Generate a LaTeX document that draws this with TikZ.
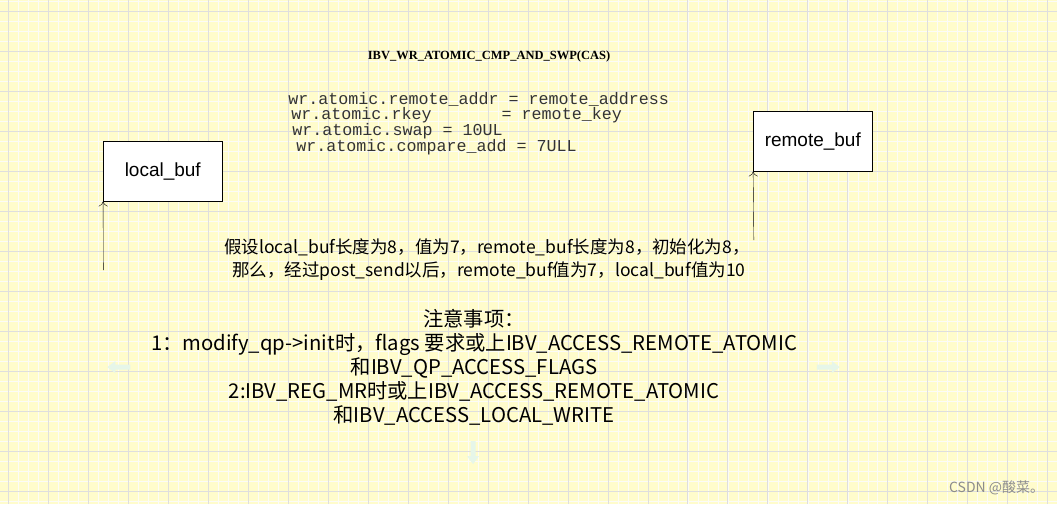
\documentclass[tikz,border=0pt]{standalone}
\usetikzlibrary{arrows.meta}
\usepackage{fontspec}
\setmainfont{Liberation Sans}
\newfontfamily\cjk{Noto Sans CJK SC}
\newfontfamily\mono{Liberation Mono}
\newfontfamily\tnr{Liberation Serif}
\begin{document}
\begin{tikzpicture}[x=1pt,y=-1pt,
 box/.style={draw=black,fill=white,minimum width=119pt,minimum height=60pt,font=\fontsize{19}{22}\selectfont},
 code/.style={anchor=west,font=\mono\fontsize{16.7}{18}\selectfont,text=black!80,inner sep=0},
 txt/.style={font=\cjk\fontsize{17.5}{23}\selectfont,align=center,inner sep=0},
 ghost/.style={fill=cyan!15!green!10,draw=none}]
\fill[yellow!20] (0,0) rectangle (1057,504);
\foreach \x in {8,18,...,1057} \draw[yellow!40!black!3,line width=0.5pt] (\x,0) -- (\x,504);
\foreach \y in {1,11,...,504} \draw[yellow!40!black!3,line width=0.5pt] (0,\y) -- (1057,\y);
\foreach \x in {8,48,...,1057} \draw[black!13,line width=0.8pt] (\x,0) -- (\x,504);
\foreach \y in {11,51,...,504} \draw[black!13,line width=0.8pt] (0,\y) -- (1057,\y);
\useasboundingbox (0,0) rectangle (1057,504);
\node[font=\tnr\bfseries\fontsize{12.5}{14}\selectfont] (title) at (489,56) {IBV\_WR\_ATOMIC\_CMP\_AND\_SWP(CAS)};
\node[code] (c1) at (288,99) {wr.atomic.remote\_addr = remote\_address};
\node[code] (c2) at (291,115) {wr.atomic.rkey\phantom{xxxxxxx}= remote\_key};
\node[code] (c3) at (292,131) {wr.atomic.swap = 10UL};
\node[code] (c4) at (296,147) {wr.atomic.compare\_add = 7ULL};
\node[box] (lb) at (162.5,171) {local\_buf};
\node[box] (rb) at (813,141) {remote\_buf};
\coordinate (la) at (103,270);
\coordinate (ra) at (754,240);
\draw[-{To[length=5pt,width=9pt]}] (la) -- (lb.south west);
\draw[-{To[length=5pt,width=9pt]}] (ra) -- (rb.south west);
\node[txt] (t1) at (487,259) {假设local\_buf长度为8，值为7，remote\_buf长度为8，初始化为8，\\\ 那么，经过post\_send以后，remote\_buf值为7，local\_buf值为10};
\node[txt,font=\cjk\fontsize{20.3}{24}\selectfont] (t2) at (474,367) {注意事项：\\1：modify\_qp->init时，flags 要求或上IBV\_ACCESS\_REMOTE\_ATOMIC\\和IBV\_QP\_ACCESS\_FLAGS\\2:IBV\_REG\_MR时或上IBV\_ACCESS\_REMOTE\_ATOMIC\\和IBV\_ACCESS\_LOCAL\_WRITE};
\fill[ghost] (107,367) -- (115,361) -- (115,364.5) -- (130,364.5) -- (130,369.5) -- (115,369.5) -- (115,373) -- cycle;
\fill[ghost] (840,367) -- (832,361) -- (832,364.5) -- (817,364.5) -- (817,369.5) -- (832,369.5) -- (832,373) -- cycle;
\fill[ghost] (473,464) -- (467,456) -- (470.5,456) -- (470.5,441) -- (475.5,441) -- (475.5,456) -- (479,456) -- cycle;
\node[font=\cjk\fontsize{14}{16}\selectfont,text=black!45,anchor=east] (wm) at (1048,488) {CSDN @酸菜。};
\end{tikzpicture}
\end{document}
